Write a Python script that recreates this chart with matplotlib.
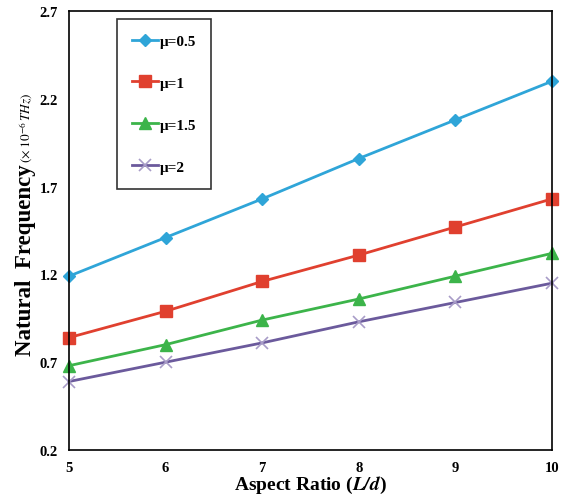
import matplotlib
matplotlib.use("Agg")
import matplotlib.pyplot as plt

plt.rcParams["font.family"] = ["Liberation Serif", "DejaVu Serif"]
plt.rcParams["mathtext.fontset"] = "stix"

aspect_ratio = [5, 6, 7, 8, 9, 10]
mu_05 = [1.19, 1.41, 1.63, 1.86, 2.08, 2.30]
mu_1 = [0.84, 0.99, 1.16, 1.31, 1.47, 1.63]
mu_15 = [0.68, 0.80, 0.94, 1.06, 1.19, 1.32]
mu_2 = [0.59, 0.70, 0.81, 0.93, 1.04, 1.15]
labels = ["μ=0.5", "μ=1", "μ=1.5", "μ=2"]
y_ticks = [0.2, 0.7, 1.2, 1.7, 2.2, 2.7]

fig = plt.figure(figsize=(5.61, 5.02), dpi=100)
ax = fig.add_axes([0.123, 0.1016, 0.861, 0.8745])

ax.plot(aspect_ratio, mu_05, color="#2fa5d8", lw=2, marker="D", ms=6,
        label=labels[0], clip_on=False)
ax.plot(aspect_ratio, mu_1, color="#e0402f", lw=2, marker="s", ms=8,
        label=labels[1], clip_on=False)
ax.plot(aspect_ratio, mu_15, color="#3cb44a", lw=2, marker="^", ms=8,
        label=labels[2], clip_on=False)
ax.plot(aspect_ratio, mu_2, color="#6b5a9c", lw=2, marker="x", ms=9, mew=1.2,
        mec="#a89cc8", label=labels[3], clip_on=False)

ax.set_xlim(5, 10)
ax.set_ylim(0.2, 2.7)
ax.set_xticks(aspect_ratio)
ax.set_yticks(y_ticks)
ax.tick_params(length=0, pad=8, labelsize=10.5)
for t in ax.get_xticklabels() + ax.get_yticklabels():
    t.set_fontweight("bold")
for s in ax.spines.values():
    s.set_linewidth(1.2)

ax.set_xlabel(r"Aspect Ratio ($\mathbfit{L/d}$)", fontsize=14,
              fontweight="bold", labelpad=0)

# y label: bold part + smaller unit part, stacked along the axis
fig.text(0.045, 0.672, "Natural  Frequency", rotation=90, fontsize=16.5,
         fontweight="bold", ha="center", va="top")
fig.text(0.047, 0.675, r"$(\times\;10^{-6}\,THz)$", rotation=90,
         fontsize=9.5, ha="center", va="bottom")

leg = ax.legend(loc="upper left", bbox_to_anchor=(0.099, 0.982),
                frameon=True, fancybox=False, edgecolor="black",
                handlelength=1.7, handletextpad=0.1, labelspacing=1.85,
                borderpad=1.0, borderaxespad=0,
                prop={"weight": "bold", "size": 11})
leg.get_frame().set_linewidth(1.2)

fig.savefig("out.png", dpi=100)
